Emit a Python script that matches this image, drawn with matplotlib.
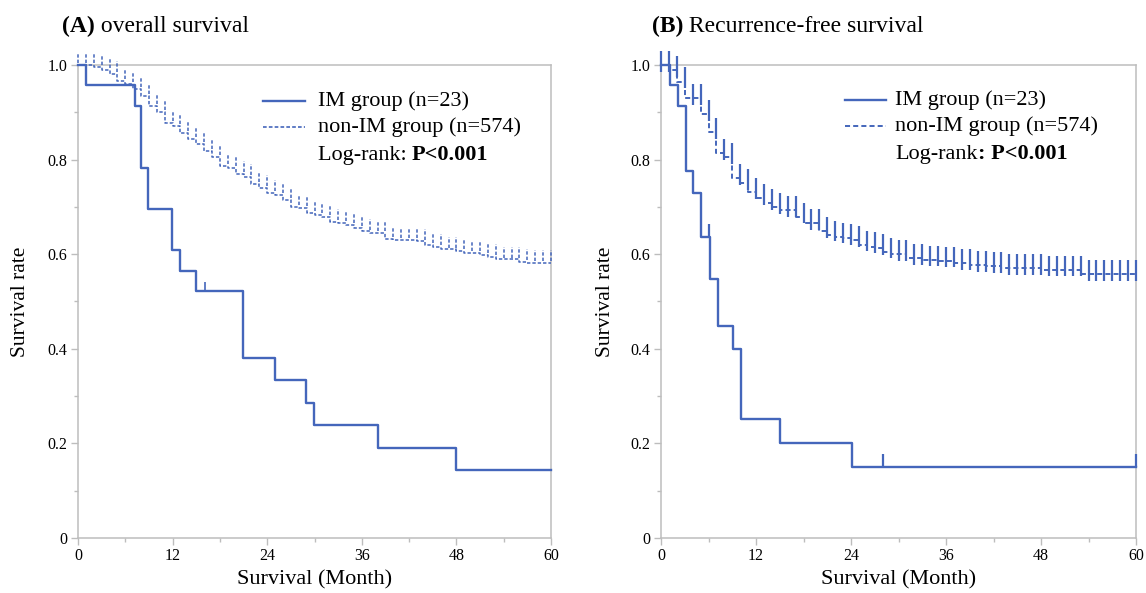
import numpy as np
import matplotlib
matplotlib.use('Agg')
import matplotlib.pyplot as plt
from matplotlib.ticker import FixedLocator, FixedFormatter, MultipleLocator

plt.rcParams['font.family'] = ['Liberation Serif', 'DejaVu Serif']

# ---------------- data ----------------
x_ticks = [0, 12, 24, 36, 48, 60]
x_tick_labels = ['0', '12', '24', '36', '48', '60']
y_ticks = [0, 0.2, 0.4, 0.6, 0.8, 1.0]
y_tick_labels = ['0', '0.2', '0.4', '0.6', '0.8', '1.0']

# (A) overall survival
os_im_time = [1, 7.2, 8, 8.9, 11.9, 12.9, 15, 20.9, 25, 28.9, 29.9, 38, 48]
os_im_surv = [0.957, 0.913, 0.783, 0.696, 0.609, 0.565, 0.522, 0.380, 0.333,
              0.285, 0.238, 0.190, 0.143]
os_im_censor = [16.1]

os_non_time = [2, 3, 4, 5, 6, 7, 8, 9, 10, 11, 12, 13, 14, 15, 16, 17, 18, 19,
               20, 21, 22, 23, 24, 25, 26, 27, 28, 29, 30, 31, 32, 33, 34, 35,
               36, 37, 39, 40, 43, 44, 45, 46, 48, 49, 51, 52, 53, 56, 57]
os_non_surv = [0.996, 0.989, 0.982, 0.966, 0.960, 0.949, 0.934, 0.913, 0.901,
               0.877, 0.871, 0.856, 0.843, 0.833, 0.818, 0.805, 0.786, 0.782,
               0.770, 0.764, 0.748, 0.741, 0.730, 0.725, 0.715, 0.700, 0.697,
               0.687, 0.683, 0.679, 0.669, 0.666, 0.662, 0.655, 0.648, 0.644,
               0.632, 0.630, 0.627, 0.619, 0.616, 0.610, 0.607, 0.602, 0.598,
               0.595, 0.589, 0.584, 0.582]
os_non_censor = [0, 1, 2, 3, 4, 5, 6, 7, 8, 9, 10, 11, 12, 13, 14, 15, 16, 17,
                 18, 19, 20, 21, 22, 23, 24, 25, 26, 27, 28, 29, 30, 31, 32, 33,
                 34, 35, 36, 37, 38, 39, 40, 41, 42, 43, 44, 45, 46, 47, 48, 49,
                 50, 51, 52, 53, 54, 55, 56, 57, 58, 59, 60]

# (B) recurrence-free survival
rfs_im_time = [1.1, 2.1, 3.2, 4.1, 5.1, 6.2, 7.2, 9.1, 10.1, 15, 24.1]
rfs_im_surv = [0.957, 0.913, 0.776, 0.729, 0.637, 0.548, 0.448, 0.400, 0.251,
               0.200, 0.150]
rfs_im_censor = [6.1, 28, 60]

rfs_non_time = [1, 2, 3, 5, 6, 7, 8, 9, 10, 11, 12, 13, 14, 15, 17, 18, 20, 21,
                22, 23, 24, 25, 26, 27, 28, 29, 31, 33, 35, 37, 39, 41, 43, 48, 53]
rfs_non_surv = [0.989, 0.965, 0.930, 0.896, 0.858, 0.814, 0.805, 0.761, 0.750,
                0.731, 0.718, 0.708, 0.700, 0.693, 0.679, 0.666, 0.648, 0.641,
                0.637, 0.634, 0.630, 0.620, 0.616, 0.613, 0.605, 0.600, 0.592,
                0.588, 0.586, 0.581, 0.577, 0.574, 0.571, 0.567, 0.558]
rfs_non_censor = [0, 1, 2, 3, 4, 5, 6, 7, 8, 9, 10, 11, 12, 13, 14, 15, 16, 17,
                  18, 19, 20, 21, 22, 23, 24, 25, 26, 27, 28, 29, 30, 31, 32, 33,
                  34, 35, 36, 37, 38, 39, 40, 41, 42, 43, 44, 45, 46, 47, 48, 49,
                  50, 51, 52, 53, 54, 55, 56, 57, 58, 59, 60]

t_max = 60
blue = '#4466BB'
grey = '#BDBDBD'


def full_curve(times, surv):
    t = np.concatenate([[0.0], np.asarray(times, float), [t_max]])
    s = np.concatenate([[1.0], np.asarray(surv, float), [surv[-1]]])
    return t, s


def surv_before(t, s, ct):
    ct = np.asarray(ct, float)
    idx = np.searchsorted(t, ct, side='left') - 1
    idx = np.clip(idx, 0, len(s) - 1)
    return s[idx]


fig = plt.figure(figsize=(11.46, 5.93), dpi=100)
axA = fig.add_axes([78 / 1146, 1 - 538 / 593, 473 / 1146, 473 / 593])
axB = fig.add_axes([661 / 1146, 1 - 538 / 593, 475 / 1146, 473 / 593])


def style_axes(ax):
    ax.set_xlim(0, t_max)
    ax.set_ylim(0, 1.0)
    for sp in ax.spines.values():
        sp.set_color(grey)
        sp.set_linewidth(1.1)
    ax.xaxis.set_major_locator(FixedLocator(x_ticks))
    ax.xaxis.set_major_formatter(FixedFormatter(x_tick_labels))
    ax.yaxis.set_major_locator(FixedLocator(y_ticks))
    ax.yaxis.set_major_formatter(FixedFormatter(y_tick_labels))
    ax.xaxis.set_minor_locator(MultipleLocator(6))
    ax.yaxis.set_minor_locator(MultipleLocator(0.1))
    ax.tick_params(which='major', length=5, width=1, color=grey,
                   labelsize=11.5, pad=2.5, labelcolor='black')
    ax.tick_params(which='minor', length=3, width=1, color=grey)
    ax.set_xlabel('Survival (Month)', fontsize=16)
    ax.set_ylabel('Survival rate', fontsize=15.5)


style_axes(axA)
style_axes(axB)
axA.xaxis.set_label_coords(0.5, -0.068)
axB.xaxis.set_label_coords(0.5, -0.068)
axA.yaxis.set_label_coords(-0.102, 0.5)
axB.yaxis.set_label_coords(-0.096, 0.5)

# ---------- panel A ----------
dashA = (0, (2.2, 1.3))
t, s = full_curve(os_non_time, os_non_surv)
axA.step(t, s, where='post', color=blue, lw=1.1, linestyle=dashA,
         clip_on=False, zorder=3)
b = surv_before(t, s, os_non_censor)
axA.vlines(os_non_censor, b + 0.004, b + 0.026, colors=blue, lw=1.1,
           linestyles=[dashA], clip_on=False, zorder=3)

t, s = full_curve(os_im_time, os_im_surv)
axA.step(t, s, where='post', color=blue, lw=1.7, clip_on=False, zorder=4)
b = surv_before(t, s, os_im_censor)
axA.vlines(os_im_censor, b + 0.003, b + 0.02, colors=blue, lw=1.2,
           clip_on=False, zorder=4)

# ---------- panel B ----------
dashB = (0, (2.6, 1.6))
t, s = full_curve(rfs_non_time, rfs_non_surv)
axB.step(t, s, where='post', color=blue, lw=1.4, linestyle=dashB,
         clip_on=False, zorder=3)
b = surv_before(t, s, rfs_non_censor)
axB.vlines(rfs_non_censor, b - 0.014, b + 0.03, colors=blue, lw=1.6,
           clip_on=False, zorder=3)

t, s = full_curve(rfs_im_time, rfs_im_surv)
axB.step(t, s, where='post', color=blue, lw=1.7, clip_on=False, zorder=4)
b = surv_before(t, s, rfs_im_censor)
axB.vlines(rfs_im_censor, b, b + 0.027, colors=blue, lw=1.6,
           clip_on=False, zorder=4)


# ---------- legends ----------
def legend(ax, x0, x1, xt, ys, dash, dashlw, bold_colon):
    ax.plot([x0, x1], [ys[0], ys[0]], transform=ax.transAxes, color=blue,
            lw=1.7, clip_on=False)
    ax.plot([x0, x1], [ys[1], ys[1]], transform=ax.transAxes, color=blue,
            lw=dashlw, linestyle=dash, clip_on=False)
    ax.text(xt, ys[0], 'IM group (n=23)', transform=ax.transAxes,
            fontsize=16, va='center', ha='left')
    ax.text(xt, ys[1], 'non-IM group (n=574)', transform=ax.transAxes,
            fontsize=16, va='center', ha='left')
    if bold_colon:
        t1 = ax.text(xt, ys[2], 'Log-rank', transform=ax.transAxes,
                     fontsize=16, va='baseline', ha='left')
        ax.annotate(': P<0.001', xy=(1, 0), xycoords=t1, fontsize=16,
                    fontweight='bold', va='bottom', ha='left')
    else:
        t1 = ax.text(xt, ys[2], 'Log-rank: ', transform=ax.transAxes,
                     fontsize=16, va='baseline', ha='left')
        ax.annotate('P<0.001', xy=(1, 0), xycoords=t1, fontsize=16,
                    fontweight='bold', va='bottom', ha='left')


legend(axA, 0.391, 0.480, 0.507, [0.924, 0.869, 0.800], dashA, 1.2, False)
legend(axB, 0.387, 0.474, 0.493, [0.926, 0.871, 0.802], dashB, 1.4, True)

# ---------- titles ----------
for xpos, lab, rest, ax_for in [(62, '(A)', ' overall survival', axA),
                                (652, '(B)', ' Recurrence-free survival', axB)]:
    tt = fig.text(xpos / 1146, 1 - 32 / 593, lab, fontsize=17,
                  fontweight='bold', va='baseline', ha='left')
    ax_for.annotate(rest, xy=(1, 0), xycoords=tt, fontsize=17,
                    va='bottom', ha='left', annotation_clip=False)

fig.savefig('out.png', dpi=100)
